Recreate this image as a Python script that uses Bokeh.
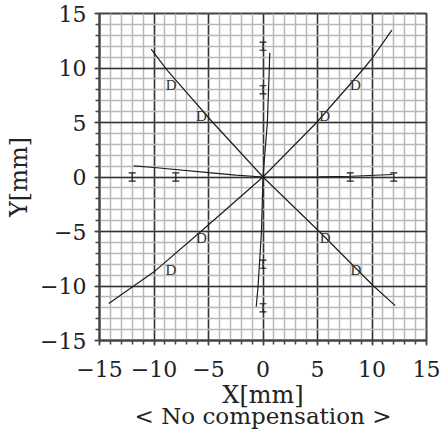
from bokeh.plotting import figure
from bokeh.models import FixedTicker, Whisker, TeeHead, ColumnDataSource, Title
from bokeh.core.properties import value
from bokeh.embed import file_html
from bokeh.resources import INLINE

# ---- data (mm) ----
major_ticks = [-15, -10, -5, 0, 5, 10, 15]
minor_ticks = list(range(-15, 16))
tick_labels = ["\u221215", "\u221210", "\u22125", "0", "5", "10", "15"]

# NW-SE diagonal trace
diag1_x = [-10.26, -8.8, -4.6, 0.0, 5.16, 10.14, 12.13]
diag1_y = [11.73, 9.8, 5.0, 0.0, -5.0, -10.0, -11.8]
# SW-NE diagonal trace
diag2_x = [-14.15, -10.0, -5.7, 0.0, 4.92, 9.29, 10.0, 11.82]
diag2_y = [-11.6, -8.7, -5.0, 0.0, 5.0, 10.0, 10.88, 13.47]
# horizontal trace
horiz_x = [-11.86, -10.0, -5.0, -2.5, 0.0, 5.18, 8.09, 11.9]
horiz_y = [1.02, 0.87, 0.4, 0.18, 0.0, 0.02, 0.07, 0.23]
# vertical trace
vert_x = [0.62, 0.58, 0.4, 0.0, -0.14, -0.45, -0.62]
vert_y = [11.4, 10.0, 5.0, 0.0, -5.0, -10.0, -11.9]

# target points on axes (I markers)
axis_pt_x = [0, 0, 0, 0, 8, 12, -8, -12]
axis_pt_y = [8, 12, -8, -12, 0, 0, 0, 0]
# target points on diagonals (D markers)
diag_pt_x = [5.66, 8.49, -5.66, -8.42, -5.66, -8.45, 5.7, 8.52]
diag_pt_y = [5.62, 8.42, 5.62, 8.4, -5.64, -8.52, -5.64, -8.52]

FONT = "DejaVu Serif"
INK = "#1e1e1e"

p = figure(frame_width=327, frame_height=327, x_range=(-15, 15), y_range=(-15, 15),
           output_backend="svg", toolbar_location=None,
           min_border_left=99, min_border_right=14, min_border_top=13,
           min_border_bottom=90)
p.background_fill_color = "white"
p.border_fill_color = "white"
p.outline_line_color = "#444444"
p.outline_line_width = 2

for ax in (p.xaxis[0], p.yaxis[0]):
    ax.ticker = FixedTicker(ticks=major_ticks, minor_ticks=minor_ticks)
    ax.major_label_overrides = {t: s for t, s in zip(major_ticks, tick_labels)}
    ax.major_label_text_font = FONT
    ax.major_label_text_font_size = "22px"
    ax.major_label_text_color = "#222222"
    ax.axis_line_color = "#444444"
    ax.axis_line_width = 2
    ax.major_tick_line_color = "#444444"
    ax.minor_tick_line_color = "#444444"
    ax.major_tick_line_width = 1.5
    ax.minor_tick_line_width = 1.5
    ax.major_tick_in = 0
    ax.major_tick_out = 5
    ax.minor_tick_in = 0
    ax.minor_tick_out = 4
    ax.axis_label_text_font = FONT
    ax.axis_label_text_font_size = "24px"
    ax.axis_label_text_font_style = "normal"
    ax.axis_label_text_color = "#222222"

p.xaxis.major_label_standoff = 15
p.yaxis.major_label_standoff = 8
p.xaxis.axis_label = "X[mm]"
p.yaxis.axis_label = "Y[mm]"
p.xaxis.axis_label_standoff = 1
p.yaxis.axis_label_standoff = 4

for g in (p.xgrid[0], p.ygrid[0]):
    g.ticker = FixedTicker(ticks=major_ticks, minor_ticks=minor_ticks)
    g.grid_line_color = "#333333"
    g.grid_line_width = 1.5
    g.minor_grid_line_color = "#b8b8b8"
    g.minor_grid_line_width = 1.5

sub = Title(text="< No compensation >", align="center", text_font=FONT,
            text_font_size="23px", text_font_style="normal",
            text_color="#222222", standoff=-21)
p.add_layout(sub, "below")

for xs, ys in ((diag1_x, diag1_y), (diag2_x, diag2_y),
               (horiz_x, horiz_y), (vert_x, vert_y)):
    p.line(xs, ys, line_color=INK, line_width=1.2)

half = 0.37
src = ColumnDataSource(dict(x=axis_pt_x,
                            lo=[v - half for v in axis_pt_y],
                            hi=[v + half for v in axis_pt_y]))
w = Whisker(source=src, base="x", lower="lo", upper="hi", dimension="height",
            line_color=INK, line_width=1.2,
            upper_head=TeeHead(size=7, line_color=INK, line_width=1.2),
            lower_head=TeeHead(size=7, line_color=INK, line_width=1.2))
p.add_layout(w)

p.text(diag_pt_x, diag_pt_y, text=["D"] * len(diag_pt_x),
       text_font=value("Liberation Serif"), text_font_size="15px",
       text_align="center", text_baseline="middle", text_color="#333333")

open("out.html", "w").write(file_html(p, INLINE))
